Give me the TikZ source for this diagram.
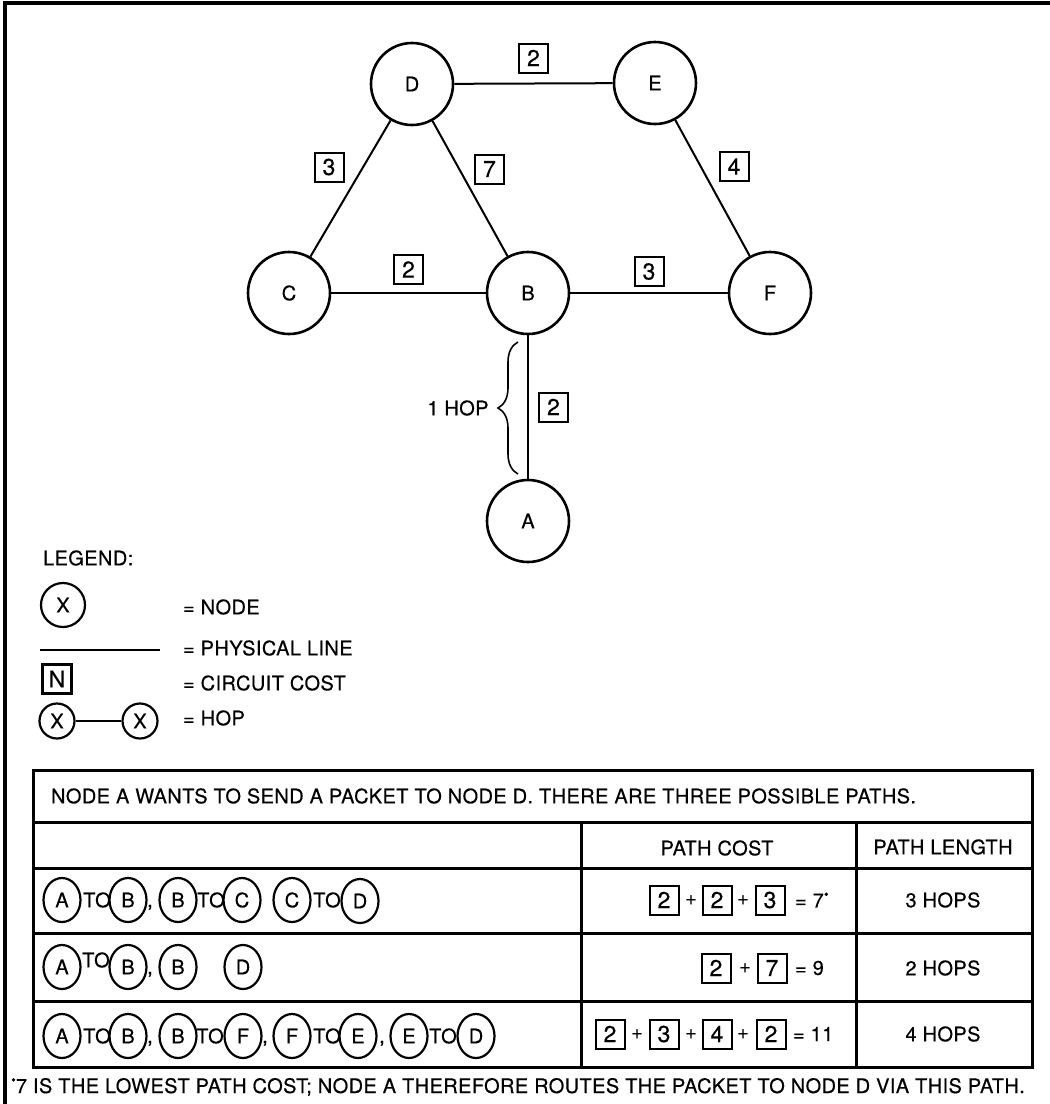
\documentclass[tikz,border=0pt]{standalone}
\usepackage{fontspec}
\setmainfont[LetterSpace=2,FakeBold=0.4]{TeX Gyre Heros}
\usetikzlibrary{shapes.geometric,decorations.pathreplacing}

\tikzset{
  host/.style={circle,draw,line width=1.3pt,minimum size=41pt,inner sep=0pt},
  cost/.style={draw,line width=1pt,minimum size=14.5pt,inner sep=0pt,font=\fontsize{11.5}{12}\selectfont},
  hopnode/.style={ellipse,draw,line width=1.1pt,minimum width=18.5pt,minimum height=22pt,inner sep=0pt},
  link/.style={line width=1pt},
  rule/.style={line width=1.5pt}
}
\newcommand{\dotmark}{\raisebox{.8ex}{\scriptsize\textbullet}}

\begin{document}
\begin{tikzpicture}[x=0.5pt,y=-0.5pt,font=\fontsize{10}{12}\selectfont]
  \useasboundingbox (0,0) rectangle (1050,1104);
  \draw[line width=1.6pt] (5,1104) -- (5,3) -- (1050,3);

  % network
  \node[host] (D) at (412,84) {D};
  \node[host] (E) at (655,83) {E};
  \node[host] (C) at (289,293) {C};
  \node[host] (B) at (528,293) {B};
  \node[host] (F) at (770,293) {F};
  \node[host] (A) at (528,521) {A};
  \path[link] (D) edge node[cost,above=5pt] {2} (E);
  \path[link] (D) edge node[cost,above left=3pt] {3} (C);
  \path[link] (D) edge node[cost,above right=2pt] {7} (B);
  \path[link] (E) edge node[cost,above right=3pt] {4} (F);
  \path[link] (C) edge node[cost,above=4pt] {2} (B);
  \path[link] (B) edge node[cost,above=3pt] {3} (F);
  \path[link] (B) edge node[cost,right=5pt] {2} (A);
  \coordinate (h1) at (518,474);
  \coordinate (h2) at (518,342);
  \draw[decorate,decoration={brace,amplitude=10pt},line width=0.8pt] (h1) -- (h2)
    node[midway,left=11pt] (hop) {1 HOP};

  % legend
  \node[anchor=west] (lgd) at (36,558) {LEGEND:};
  \node[host,minimum size=22pt,line width=1.1pt] (lx) at (63,605) {X};
  \node[anchor=west] (lxt) at (176,607) {= NODE};
  \coordinate (ll1) at (40,650);
  \coordinate (ll2) at (160,650);
  \draw[link] (ll1) -- (ll2);
  \node[anchor=west] (llt) at (176,648) {= PHYSICAL LINE};
  \node[cost,line width=1.6pt] (lc) at (57,679) {N};
  \node[anchor=west] (lct) at (176,683) {= CIRCUIT COST};
  \node[host,minimum size=17.5pt,line width=1.1pt] (lh1) at (57,721) {X};
  \node[host,minimum size=17.5pt,line width=1.1pt] (lh2) at (140,721) {X};
  \draw[link] (lh1) -- (lh2);
  \node[anchor=west] (lht) at (176,718) {= HOP};

  % table
  \draw[rule] (33,770) rectangle (1032,1067);
  \draw[rule] (33,822) -- (1032,822);
  \draw[rule] (33,868) -- (1032,868);
  \draw[rule] (33,933) -- (1032,933);
  \draw[rule] (33,1001) -- (1032,1001);
  \draw[rule] (581,822) -- (581,1067);
  \draw[rule] (856,822) -- (856,1067);
  \node[anchor=west] (hdr) at (44,796) {NODE A WANTS TO SEND A PACKET TO NODE D. THERE ARE THREE POSSIBLE PATHS.};
  \node (pc) at (717,848) {PATH COST};
  \node (pl) at (943,847) {PATH LENGTH};

  % path 1
  \node[hopnode] (r1a) at (62,900) {A};
  \node (r1t1) at (97,900) {TO};
  \node[hopnode] (r1b) at (128,900) {B};
  \node[anchor=base] (r1k1) at (150,907) {,};
  \node[hopnode] (r1b2) at (178,900) {B};
  \node (r1t2) at (211,900) {TO};
  \node[hopnode] (r1c) at (242,900) {C};
  \node[hopnode] (r1c2) at (292,900) {C};
  \node (r1t3) at (327,900) {TO};
  \node[hopnode] (r1d) at (360,901) {D};
  \node[cost] (p1a) at (664,900) {2};
  \node (p1s1) at (691,900) {+};
  \node[cost] (p1b) at (717,900) {2};
  \node (p1s2) at (743,900) {+};
  \node[cost] (p1c) at (770,900) {3};
  \node[anchor=west] (p1r) at (788,900) {= 7\dotmark};
  \node (l1) at (943,900) {3 HOPS};

  % path 2
  \node[hopnode] (r2a) at (62,967) {A};
  \node (r2t1) at (96,960) {TO};
  \node[hopnode] (r2b) at (128,967) {B};
  \node[anchor=base] (r2k1) at (150,974) {,};
  \node[hopnode] (r2b2) at (178,967) {B};
  \node[hopnode] (r2d) at (243,967) {D};
  \node[cost] (p2a) at (716,968) {2};
  \node (p2s1) at (745,968) {+};
  \node[cost] (p2b) at (772,968) {7};
  \node[anchor=west] (p2r) at (788,968) {= 9};
  \node (l2) at (943,968) {2 HOPS};

  % path 3
  \node[hopnode] (r3a) at (62,1036) {A};
  \node (r3t1) at (97,1036) {TO};
  \node[hopnode] (r3b) at (128,1036) {B};
  \node[anchor=base] (r3k1) at (150,1043) {,};
  \node[hopnode] (r3b2) at (178,1036) {B};
  \node (r3t2) at (210,1036) {TO};
  \node[hopnode] (r3f) at (243,1036) {F};
  \node[anchor=base] (r3k2) at (265,1043) {,};
  \node[hopnode] (r3f2) at (292,1036) {F};
  \node (r3t3) at (327,1036) {TO};
  \node[hopnode] (r3e) at (358,1036) {E};
  \node[anchor=base] (r3k3) at (382,1043) {,};
  \node[hopnode] (r3e2) at (409,1036) {E};
  \node (r3t4) at (443,1036) {TO};
  \node[hopnode] (r3d) at (476,1036) {D};
  \node[cost] (p3a) at (610,1034) {2};
  \node (p3s1) at (637,1034) {+};
  \node[cost] (p3b) at (664,1034) {3};
  \node (p3s2) at (691,1034) {+};
  \node[cost] (p3c) at (717,1034) {4};
  \node (p3s3) at (743,1034) {+};
  \node[cost] (p3d) at (771,1034) {2};
  \node[anchor=west] (p3r) at (786,1034) {= 11};
  \node (l3) at (943,1034) {4 HOPS};

  \node[anchor=west] (fn) at (4,1087) {\dotmark7 IS THE LOWEST PATH COST; NODE A THEREFORE ROUTES THE PACKET TO NODE D VIA THIS PATH.};
\end{tikzpicture}
\end{document}
